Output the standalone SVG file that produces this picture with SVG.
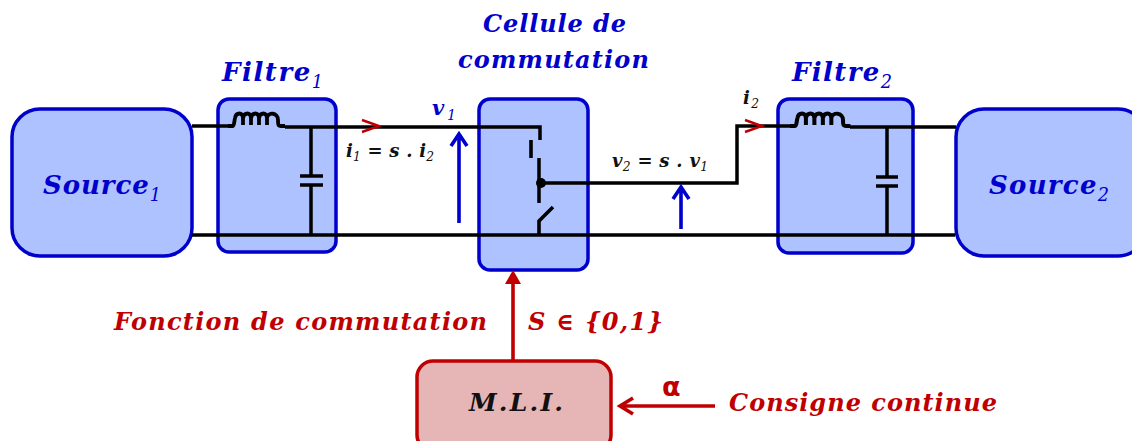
<svg xmlns="http://www.w3.org/2000/svg" width="1132" height="441" viewBox="0 0 1132 441">
<defs>
<style>
.blk{fill:#aec2ff;stroke:#0000cc;stroke-width:3.5}
.red{fill:#e6b5b5;stroke:#c00000;stroke-width:3.5}
.w{fill:none;stroke:#000;stroke-width:3.5}
.c{fill:none;stroke:#000;stroke-width:3.6}
.ba{fill:none;stroke:#0000cc;stroke-width:3.6}
.ra{fill:none;stroke:#c00000;stroke-width:3.6}
.ri{fill:none;stroke:#c00000;stroke-width:2.4}
text{font-family:"DejaVu Serif",serif;font-style:italic;font-weight:bold}
.t{font-size:26px;fill:#0000cc}
.m{font-size:24px;fill:#0000cc}
.r{font-size:24px;fill:#c00000}
.k{font-size:18px;fill:#111}
.sub{font-size:.68em;font-weight:normal}
</style>
<path id="coil" d="M0 0H5C6 0 6-3 7-8C8-14 15-14 15-8L15-1M15-8C16-14 23-14 23-8V-1M23-8C24-14 31-14 31-8V-1M31-8C32-14 39-14 39-8V-1M39-8C40-14 50-14 50-6C50-2 50 0 53 0H57" fill="none" stroke="#000" stroke-width="3.8"/>
</defs>
<g id="source1"><rect class="blk" x="12" y="109" width="180" height="147" rx="28"/><text class="t" x="43" y="194" textLength="118">Source<tspan class="sub" dy="7">1</tspan></text></g>
<g id="filtre1"><rect class="blk" x="218" y="99" width="118" height="153" rx="11"/><text class="t" x="222" y="81" textLength="101">Filtre<tspan class="sub" dy="7">1</tspan></text></g>
<g id="cellule"><rect class="blk" x="479" y="99" width="109" height="171" rx="11"/><text class="m" x="483" y="32" textLength="143">Cellule de</text><text class="m" x="458" y="68" textLength="191">commutation</text></g>
<g id="filtre2"><rect class="blk" x="778" y="99" width="135" height="154" rx="11"/><text class="t" x="792" y="81" textLength="100">Filtre<tspan class="sub" dy="7">2</tspan></text></g>
<g id="source2"><rect class="blk" x="956" y="109" width="190" height="147" rx="28"/><text class="t" x="989" y="194" textLength="120">Source<tspan class="sub" dy="7">2</tspan></text></g>
<g id="mli"><rect class="red" x="417" y="361" width="194" height="90" rx="16"/><text x="469" y="411" textLength="94" style="font-size:25px;fill:#111">M.L.I.</text></g>
<g id="connectors">
<path class="w" d="M192 126H232M285 127H540V140M539 158V203M192 235H955M311 127V176M311 186V235M541 183H737V126H795M850 127H956M887 127V177M887 186V235"/>
<path class="c" d="M300 176H323M300 185H323M531 140V158M876 177H898M876 186H898M539 235V221L553 207"/>
<use href="#coil" x="228" y="126"/><g transform="translate(790 126) scale(1.06 1)"><use href="#coil"/></g>
<circle cx="541" cy="183" r="5"/>
<path class="ba" d="M459 223V135M451 146L459 134L467 146M681 229V188M673 199L681 187L689 199"/>
<path class="ri" d="M362 120L379 126L362 132M745 120L762 126L745 132"/>
<path class="ra" d="M513 360V274M715 406H621M633 398L620 406L633 414"/>
<path d="M513 270L505 284H521Z" fill="#c00000"/>
</g>
<g id="labels">
<text x="432" y="115" textLength="24" style="font-size:21px;fill:#0000cc">v<tspan class="sub" dy="5">1</tspan></text>
<text class="k" x="346" y="157" textLength="88">i<tspan class="sub" dy="4">1</tspan><tspan dy="-4"> = s . i</tspan><tspan class="sub" dy="4">2</tspan></text>
<text class="k" x="612" y="167" textLength="96">v<tspan class="sub" dy="4">2</tspan><tspan dy="-4"> = s . v</tspan><tspan class="sub" dy="4">1</tspan></text>
<text class="k" x="743" y="104" textLength="16">i<tspan class="sub" dy="4">2</tspan></text>
<text class="r" x="114" y="330" textLength="373">Fonction de commutation</text>
<text class="r" x="528" y="330" textLength="135">S ∈ {0,1}</text>
<text class="r" x="729" y="411" textLength="268">Consigne continue</text>
<text x="662" y="396" style="font-family:'DejaVu Sans',sans-serif;font-style:normal;font-size:27px;fill:#c00000">α</text>
</g>
</svg>
